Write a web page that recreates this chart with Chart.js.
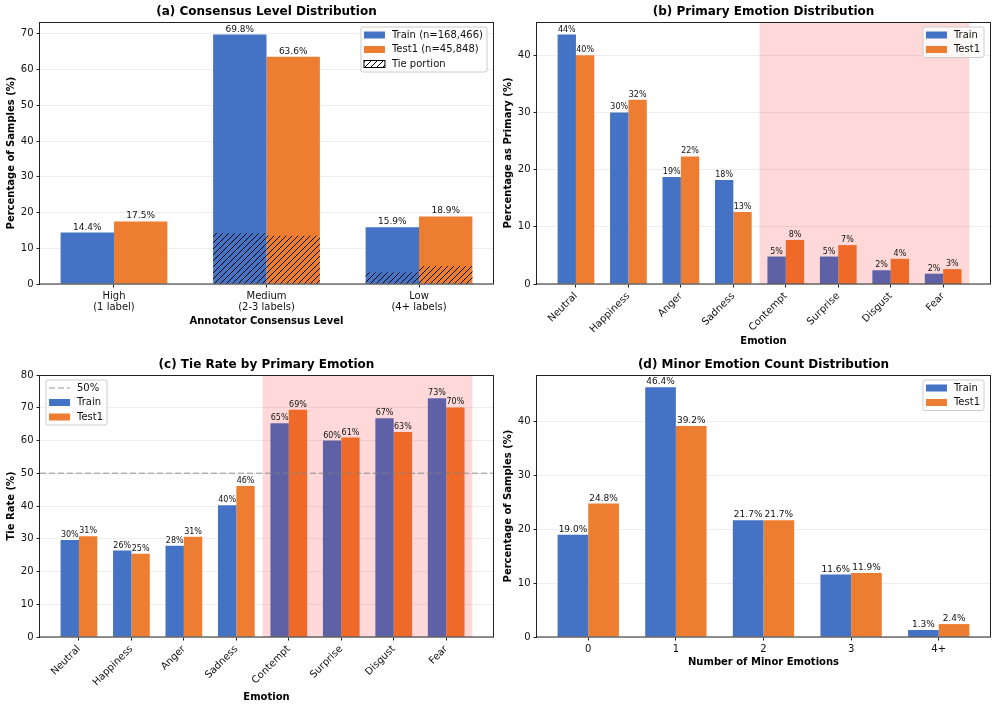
<!DOCTYPE html>
<html>
<head>
<meta charset="utf-8">
<script src="https://cdn.jsdelivr.net/npm/chart.js@4.4.0/dist/chart.umd.min.js"></script>
<style>
  html, body { margin: 0; padding: 0; background: #fff; }
  #page { position: relative; width: 997px; height: 709px; }
  .panel { position: absolute; }
</style>
</head>
<body>
<div id="page">
  <div class="panel" style="left:0;top:0"><canvas id="chartA" width="497" height="350"></canvas></div>
  <div class="panel" style="left:497px;top:0"><canvas id="chartB" width="500" height="350"></canvas></div>
  <div class="panel" style="left:0;top:350px"><canvas id="chartC" width="497" height="359"></canvas></div>
  <div class="panel" style="left:497px;top:350px"><canvas id="chartD" width="500" height="359"></canvas></div>
</div>
<script>
// data
const consensusLevels = [['High', '(1 label)'], ['Medium', '(2-3 labels)'], ['Low', '(4+ labels)']];
const consensusTrain = [14.4, 69.8, 15.9];
const consensusTest = [17.5, 63.6, 18.9];
const tieTrain = [0, 14.2, 3.2];
const tieTest = [0, 13.5, 5.0];
const consensusTicks = [0, 10, 20, 30, 40, 50, 60, 70];

const emotions = ['Neutral', 'Happiness', 'Anger', 'Sadness', 'Contempt', 'Surprise', 'Disgust', 'Fear'];
const rareEmotions = ['Contempt', 'Surprise', 'Disgust', 'Fear'];
const primaryTrain = [43.6, 30.0, 18.7, 18.2, 4.8, 4.8, 2.4, 1.8];
const primaryTest = [40.0, 32.2, 22.3, 12.6, 7.7, 6.8, 4.4, 2.6];
const primaryTicks = [0, 10, 20, 30, 40];

const tieRateTrain = [29.6, 26.4, 27.9, 40.2, 65.3, 60.0, 66.8, 72.9];
const tieRateTest = [30.8, 25.4, 30.6, 46.1, 69.4, 60.9, 62.6, 70.1];
const tieRateTicks = [0, 10, 20, 30, 40, 50, 60, 70, 80];
const tieThreshold = 50;

const minorCounts = ['0', '1', '2', '3', '4+'];
const minorTrain = [19.0, 46.4, 21.7, 11.6, 1.3];
const minorTest = [24.8, 39.2, 21.7, 11.9, 2.4];
const minorTicks = [0, 10, 20, 30, 40];

const BLUE = '#4472C4';
const ORANGE = '#ED7D31';
const FONT = '"DejaVu Sans", sans-serif';

Chart.defaults.font.family = FONT;
Chart.defaults.color = '#111';
Chart.defaults.animation = false;
Chart.defaults.plugins.legend.display = false;
Chart.defaults.plugins.tooltip.enabled = false;

// diagonal hatch like matplotlib '///'
function makeHatch() {
    const c = document.createElement('canvas');
    c.width = 6; c.height = 6;
    const g = c.getContext('2d');
    g.strokeStyle = '#000';
    g.lineWidth = 1;
    g.beginPath();
    g.moveTo(0, 6); g.lineTo(6, 0);
    g.moveTo(-1, 1); g.lineTo(1, -1);
    g.moveTo(5, 7); g.lineTo(7, 5);
    g.stroke();
    return g.createPattern(c, 'repeat');
}
const hatch = makeHatch();

function spanOf(cats, picked) {
    const idx = picked.map(p => cats.indexOf(p));
    return [Math.min(...idx) - 0.5, Math.max(...idx) + 0.5];
}

function barSet(label, values, color, extra) {
    return Object.assign({
        label: label,
        data: values.map((v, i) => ({x: i, y: v})),
        backgroundColor: color,
        borderWidth: 0,
        categoryPercentage: 0.7,
        barPercentage: 1.0
    }, extra || {});
}

function yAxis(title, max, ticks) {
    return {
        min: 0, max: max, stacked: false,
        afterBuildTicks: s => { s.ticks = ticks.map(v => ({value: v})); },
        afterFit: s => { s.width = 40; },
        ticks: {color: '#111', font: {size: 10}, padding: 3},
        grid: {color: '#e8e8e8', lineWidth: 0.8, tickLength: 3.5, tickColor: '#222', tickWidth: 1},
        border: {display: false},
        title: {display: true, text: title, color: '#000', font: {size: 10, weight: 'bold'}, padding: {top: 5, bottom: 0}}
    };
}

function xAxis(title, labels, min, max, rotate, height, titlePad) {
    return {
        type: 'linear', min: min, max: max, offset: false,
        afterBuildTicks: s => { s.ticks = labels.map((l, i) => ({value: i})); },
        afterFit: s => { s.height = height; },
        ticks: {color: '#111', font: {size: 10, lineHeight: 1.1}, autoSkip: false,
                minRotation: rotate, maxRotation: rotate, padding: 3,
                callback: v => labels[v]},
        grid: {drawOnChartArea: false, offset: false, tickLength: 3.5, tickColor: '#222', tickWidth: 1},
        border: {display: false},
        title: {display: true, text: title, color: '#000', font: {size: 10, weight: 'bold'}, padding: {top: 0, bottom: titlePad}}
    };
}

function drawLegend(chart, lg) {
    const ctx = chart.ctx, a = chart.chartArea;
    ctx.save();
    ctx.font = '10px ' + FONT;
    const step = 14.5;
    const tw = Math.max(...lg.items.map(it => ctx.measureText(it.label).width));
    const w = 3 + 21 + 7 + tw + 4;
    const h = 16 + step * (lg.items.length - 1);
    const x = lg.corner === 'tl' ? a.left + 6 : a.right - 6 - w;
    const y = a.top + 5;
    ctx.fillStyle = 'rgba(255,255,255,0.8)';
    ctx.strokeStyle = '#cccccc';
    ctx.lineWidth = 1;
    ctx.beginPath();
    if (ctx.roundRect) ctx.roundRect(x, y, w, h, 2); else ctx.rect(x, y, w, h);
    ctx.fill();
    ctx.stroke();
    lg.items.forEach((it, i) => {
        const cy = y + 8 + i * step;
        if (it.dash) {
            ctx.strokeStyle = 'rgba(128,128,128,0.55)';
            ctx.lineWidth = 1.5;
            ctx.setLineDash([6, 3]);
            ctx.beginPath(); ctx.moveTo(x + 3, cy); ctx.lineTo(x + 24, cy); ctx.stroke();
            ctx.setLineDash([]);
        } else if (it.hatch) {
            ctx.fillStyle = '#fff'; ctx.fillRect(x + 3, cy - 3.5, 21, 7);
            ctx.fillStyle = hatch; ctx.fillRect(x + 3, cy - 3.5, 21, 7);
            ctx.strokeStyle = '#000'; ctx.lineWidth = 1; ctx.strokeRect(x + 3, cy - 3.5, 21, 7);
        } else {
            ctx.fillStyle = it.color; ctx.fillRect(x + 3, cy - 3.5, 21, 7);
        }
        ctx.fillStyle = '#111';
        ctx.textAlign = 'left';
        ctx.textBaseline = 'middle';
        ctx.fillText(it.label, x + 31, cy);
    });
    ctx.restore();
}

// shaded span, reference line, value labels, frame, title and legend
const decor = {
    id: 'decor',
    afterDatasetsDraw(chart, args, o) {
        const ctx = chart.ctx, a = chart.chartArea, xs = chart.scales.x, ys = chart.scales.y;
        ctx.save();
        if (o.span) {
            const x0 = xs.getPixelForValue(o.span[0]), x1 = xs.getPixelForValue(o.span[1]);
            ctx.fillStyle = 'rgba(255,0,0,0.15)';
            ctx.fillRect(x0, a.top, x1 - x0, a.bottom - a.top);
        }
        if (o.refLine != null) {
            const y = ys.getPixelForValue(o.refLine);
            ctx.strokeStyle = 'rgba(128,128,128,0.55)';
            ctx.lineWidth = 1.5;
            ctx.setLineDash([6, 3]);
            ctx.beginPath(); ctx.moveTo(a.left, y); ctx.lineTo(a.right, y); ctx.stroke();
            ctx.setLineDash([]);
        }
        if (o.labels) {
            ctx.font = o.labels.size + 'px ' + FONT;
            ctx.fillStyle = '#111';
            ctx.textAlign = 'center';
            ctx.textBaseline = 'alphabetic';
            o.labels.sets.forEach(di => {
                chart.getDatasetMeta(di).data.forEach((bar, i) => {
                    const v = chart.data.datasets[di].data[i].y;
                    ctx.fillText(v.toFixed(o.labels.digits) + '%', bar.x, bar.y - 3);
                });
            });
        }
        ctx.restore();
    },
    afterDraw(chart, args, o) {
        const ctx = chart.ctx, a = chart.chartArea;
        ctx.save();
        ctx.strokeStyle = '#222';
        ctx.lineWidth = 1;
        ctx.strokeRect(Math.round(a.left) - 0.5, Math.round(a.top) + 0.5,
                       Math.round(a.right - a.left) + 1, Math.round(a.bottom - a.top) - 0.5);
        ctx.font = 'bold 12px ' + FONT;
        ctx.fillStyle = '#000';
        ctx.textAlign = 'center';
        ctx.textBaseline = 'middle';
        ctx.fillText(o.title, (a.left + a.right) / 2, a.top - 10);
        ctx.restore();
        if (o.legend) drawLegend(chart, o.legend);
    }
};
Chart.register(decor);

// (a) consensus level distribution
new Chart(document.getElementById('chartA'), {
    type: 'bar',
    data: {
        datasets: [
            barSet('Train (n=168,466)', consensusTrain, BLUE, {stack: 'train', order: 1}),
            barSet('Test1 (n=45,848)', consensusTest, ORANGE, {stack: 'test', order: 1}),
            barSet('Tie portion', tieTrain, hatch, {stack: 'train', order: 0}),
            barSet('Tie portion', tieTest, hatch, {stack: 'test', order: 0})
        ]
    },
    options: {
        responsive: false,
        layout: {padding: {top: 22, right: 4, left: 0, bottom: 0}},
        scales: {
            x: xAxis('Annotator Consensus Level', consensusLevels, -0.485, 2.485, 0, 66, 23),
            y: yAxis('Percentage of Samples (%)', 73.3, consensusTicks)
        },
        plugins: {
            decor: {
                title: '(a) Consensus Level Distribution',
                labels: {sets: [0, 1], digits: 1, size: 9},
                legend: {corner: 'tr', items: [
                    {label: 'Train (n=168,466)', color: BLUE},
                    {label: 'Test1 (n=45,848)', color: ORANGE},
                    {label: 'Tie portion', hatch: true}
                ]}
            }
        }
    }
});

// (b) primary emotion distribution
new Chart(document.getElementById('chartB'), {
    type: 'bar',
    data: {
        datasets: [
            barSet('Train', primaryTrain, BLUE),
            barSet('Test1', primaryTest, ORANGE)
        ]
    },
    options: {
        responsive: false,
        layout: {padding: {top: 22, right: 7, left: 0, bottom: 0}},
        scales: {
            x: xAxis('Emotion', emotions, -0.7425, 7.8925, 45, 66, 3),
            y: yAxis('Percentage as Primary (%)', 45.8, primaryTicks)
        },
        plugins: {
            decor: {
                title: '(b) Primary Emotion Distribution',
                span: spanOf(emotions, rareEmotions),
                labels: {sets: [0, 1], digits: 0, size: 8},
                legend: {corner: 'tr', items: [
                    {label: 'Train', color: BLUE},
                    {label: 'Test1', color: ORANGE}
                ]}
            }
        }
    }
});

// (c) tie rate by primary emotion
new Chart(document.getElementById('chartC'), {
    type: 'bar',
    data: {
        datasets: [
            barSet('Train', tieRateTrain, BLUE),
            barSet('Test1', tieRateTest, ORANGE)
        ]
    },
    options: {
        responsive: false,
        layout: {padding: {top: 25, right: 4, left: 0, bottom: 0}},
        scales: {
            x: xAxis('Emotion', emotions, -0.7425, 7.8925, 45, 72, 6),
            y: yAxis('Tie Rate (%)', 80, tieRateTicks)
        },
        plugins: {
            decor: {
                title: '(c) Tie Rate by Primary Emotion',
                span: spanOf(emotions, rareEmotions),
                refLine: tieThreshold,
                labels: {sets: [0, 1], digits: 0, size: 8},
                legend: {corner: 'tl', items: [
                    {label: tieThreshold + '%', dash: true},
                    {label: 'Train', color: BLUE},
                    {label: 'Test1', color: ORANGE}
                ]}
            }
        }
    }
});

// (d) minor emotion count distribution
new Chart(document.getElementById('chartD'), {
    type: 'bar',
    data: {
        datasets: [
            barSet('Train', minorTrain, BLUE),
            barSet('Test1', minorTest, ORANGE)
        ]
    },
    options: {
        responsive: false,
        layout: {padding: {top: 25, right: 7, left: 0, bottom: 0}},
        scales: {
            x: xAxis('Number of Minor Emotions', minorCounts, -0.585, 4.585, 0, 72, 41),
            y: yAxis('Percentage of Samples (%)', 48.7, minorTicks)
        },
        plugins: {
            decor: {
                title: '(d) Minor Emotion Count Distribution',
                labels: {sets: [0, 1], digits: 1, size: 9},
                legend: {corner: 'tr', items: [
                    {label: 'Train', color: BLUE},
                    {label: 'Test1', color: ORANGE}
                ]}
            }
        }
    }
});
</script>
</body>
</html>
